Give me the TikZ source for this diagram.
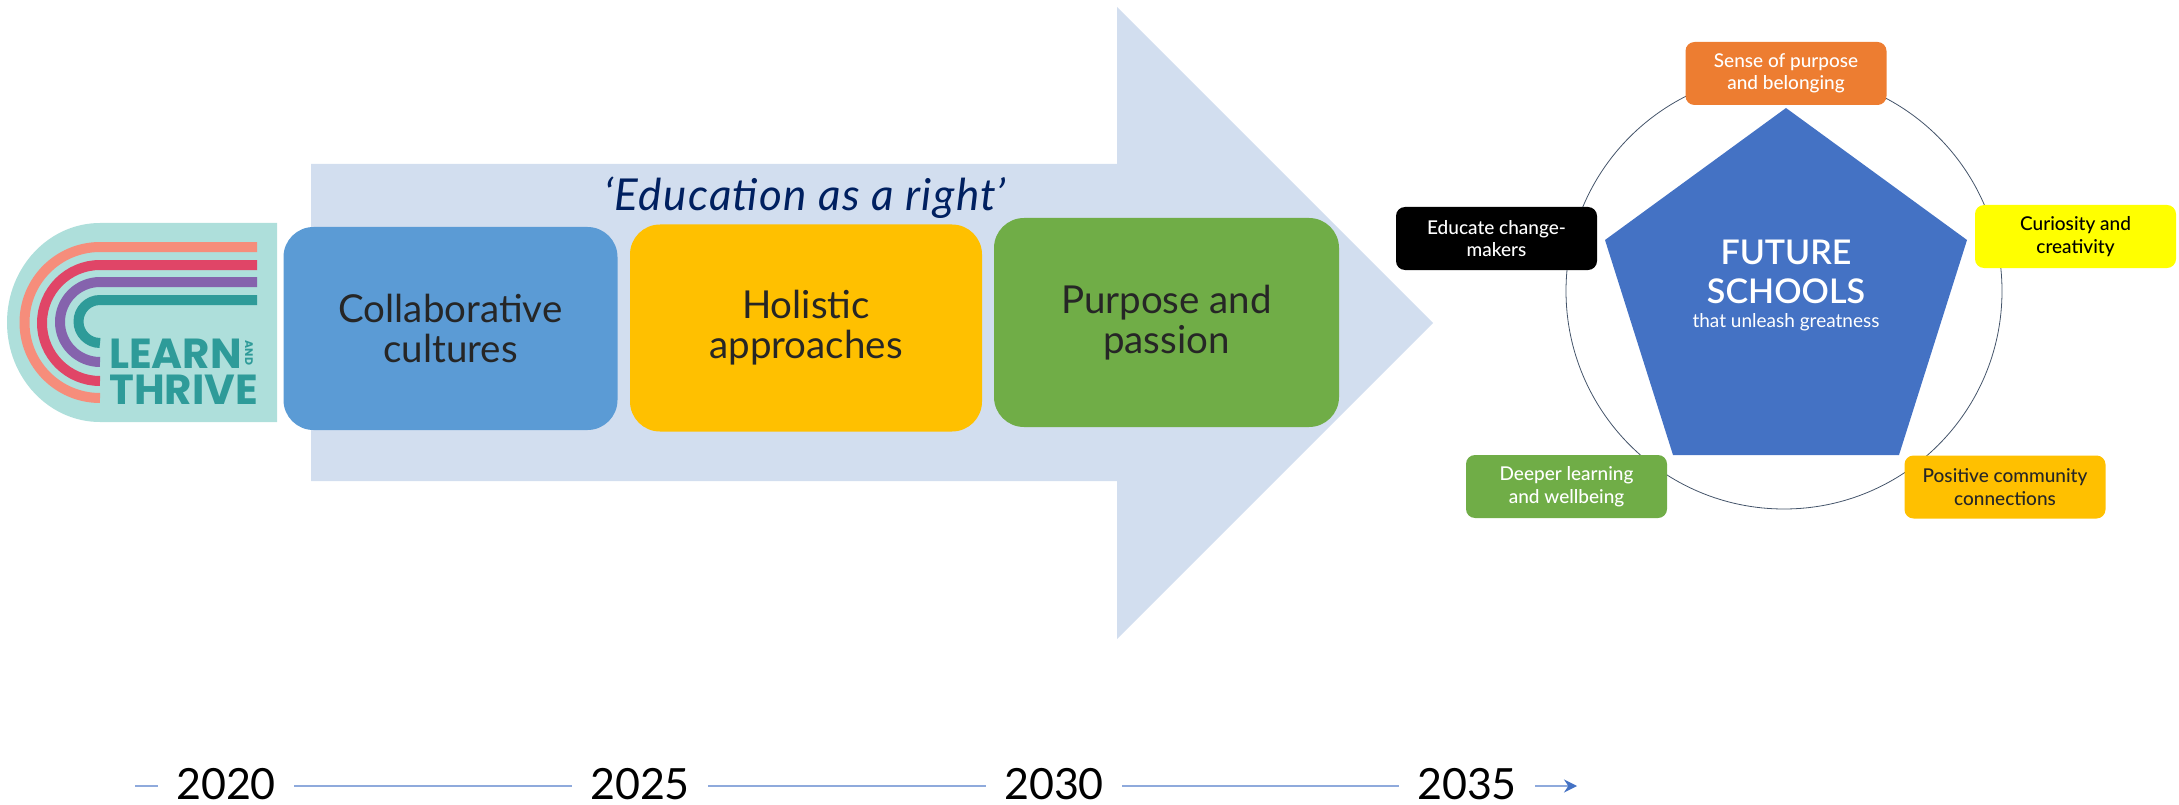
\documentclass[tikz,border=0pt]{standalone}
\usepackage{fontspec}
\usepackage{xcolor}
\setmainfont{Lato}
\newfontfamily\midfont{Lato Medium}
\newfontfamily\heavyfont{Lato Semibold}
\newfontfamily\logofont{Poppins}
\usetikzlibrary{arrows.meta}
\definecolor{arrowfill}{HTML}{D2DEEF}
\definecolor{navy}{HTML}{002060}
\definecolor{inkdark}{HTML}{262626}
\definecolor{boxblue}{HTML}{5B9BD5}
\definecolor{boxamber}{HTML}{FFC000}
\definecolor{boxgreen}{HTML}{70AD47}
\definecolor{boxorange}{HTML}{ED7D31}
\definecolor{boxyellow}{HTML}{FFFF00}
\definecolor{pentblue}{HTML}{4472C4}
\definecolor{ringline}{HTML}{44546A}
\definecolor{timeline}{HTML}{8FAADC}
\definecolor{logobg}{HTML}{AEDFDB}
\definecolor{logocoral}{HTML}{F68D7B}
\definecolor{logored}{HTML}{E04567}
\definecolor{logopurple}{HTML}{8563AD}
\definecolor{logoteal}{HTML}{2E9B99}
\begin{document}
\begin{tikzpicture}[x=1pt, y=-1pt,
    line join=round,
    stagebox/.style={rounded corners=30pt, inner sep=0pt, align=center,
        text=inkdark, font=\fontsize{38.5}{40}\selectfont},
    pillar/.style={rounded corners=9pt, inner sep=0pt, align=center,
        minimum width=201pt, minimum height=63pt,
        font=\midfont\fontsize{19}{22.5}\selectfont},
    year/.style={minimum width=136pt, inner sep=0pt,
        font=\fontsize{43}{43}\selectfont},
    band/.style={line width=10pt},
    logotext/.style={text=logoteal, inner sep=0pt, anchor=base west,
        font=\logofont\bfseries\fontsize{42}{42}\selectfont},
    timeaxis/.style={timeline, line width=1.6pt}]
\useasboundingbox (0,0) rectangle (2179,805);

% BIG ARROW
\fill[arrowfill] (311,164) -- (1117,164) -- (1117,7) -- (1433,323)
    -- (1117,639) -- (1117,481) -- (311,481) -- cycle;
\node[text=navy, font=\itshape\addfontfeatures{LetterSpace=3}\fontsize{44}{44}\selectfont] (motto) at (805,198)
    {‘Education as a right’};

% LOGO
\fill[logobg] (277,422) -- (277,223) -- (100,223)
    arc[start angle=270, end angle=90, x radius=93, y radius=99.5] -- cycle;
\foreach \yTop/\r/\c in {247/75.5/logocoral, 265/58/logored, 282/40/logopurple, 300/21.5/logoteal}{
\draw[band,\c] (257,\yTop) -- (100,\yTop)
    arc[start angle=270, end angle=90, radius=\r];
}
\node[logotext] (learn) at (109,368) {LEARN};
\node[logotext] (thrive) at (109,404) {THRIVE};
\node[text=logoteal, inner sep=0pt, rotate=-90, font=\logofont\bfseries\fontsize{11}{11}\selectfont] (logoand) at (249,353) {AND};

% STAGES
\node[stagebox, fill=boxblue, minimum width=334pt, minimum height=203pt] (collab) at (450.5,328.5)
    {Collaborative\\cultures};
\node[stagebox, fill=boxamber, minimum width=352pt, minimum height=207pt] (holistic) at (806,328)
    {Holistic\\approaches};
\node[stagebox, fill=boxgreen, minimum width=345pt, minimum height=209pt] (passion) at (1166.5,322.5)
    {Purpose and\\passion};

% RING AND PENTAGON
\draw[ringline, line width=0.8pt] (1784,291) circle[radius=218];
\fill[pentblue] (1786,108) -- (1967,240) -- (1899,455) -- (1673,455) -- (1605,240) -- cycle;
\node[text=white, align=center, inner sep=0pt, font=\heavyfont\fontsize{34}{39}\selectfont] (future) at (1786,272)
    {FUTURE\\SCHOOLS};
\node[text=white, inner sep=0pt, font=\fontsize{19}{19}\selectfont] (unleash) at (1786,322)
    {that unleash greatness};

% PILLARS
\node[pillar, fill=boxorange, text=white] (purpose) at (1786,73.5) {Sense of purpose\\and belonging};
\node[pillar, fill=boxyellow, text=black] (curiosity) at (2075.5,236.5) {Curiosity and\\creativity};
\node[pillar, fill=boxamber, text=inkdark] (community) at (2005,487) {Positive community\\connections};
\node[pillar, fill=boxgreen, text=white] (deeper) at (1566.5,486.5) {Deeper learning\\and wellbeing};
\node[pillar, fill=black, text=white] (change) at (1496.5,238.5) {Educate change-\\makers};

% TIMELINE
\coordinate (tstart) at (135,786);
\coordinate (tend) at (1577,786);
\node[year] (y2020) at (226,786) {\raisebox{4pt}{2020}};
\node[year] (y2025) at (640,786) {\raisebox{4pt}{2025}};
\node[year] (y2030) at (1054,786) {\raisebox{4pt}{2030}};
\node[year] (y2035) at (1467,786) {\raisebox{4pt}{2035}};
\draw[timeaxis] (tstart) -- (y2020);
\draw[timeaxis] (y2020) -- (y2025);
\draw[timeaxis] (y2025) -- (y2030);
\draw[timeaxis] (y2030) -- (y2035);
\draw[timeaxis, -{Stealth[length=13pt,width=13pt,pentblue]}] (y2035) -- (tend);

\end{tikzpicture}
\end{document}
